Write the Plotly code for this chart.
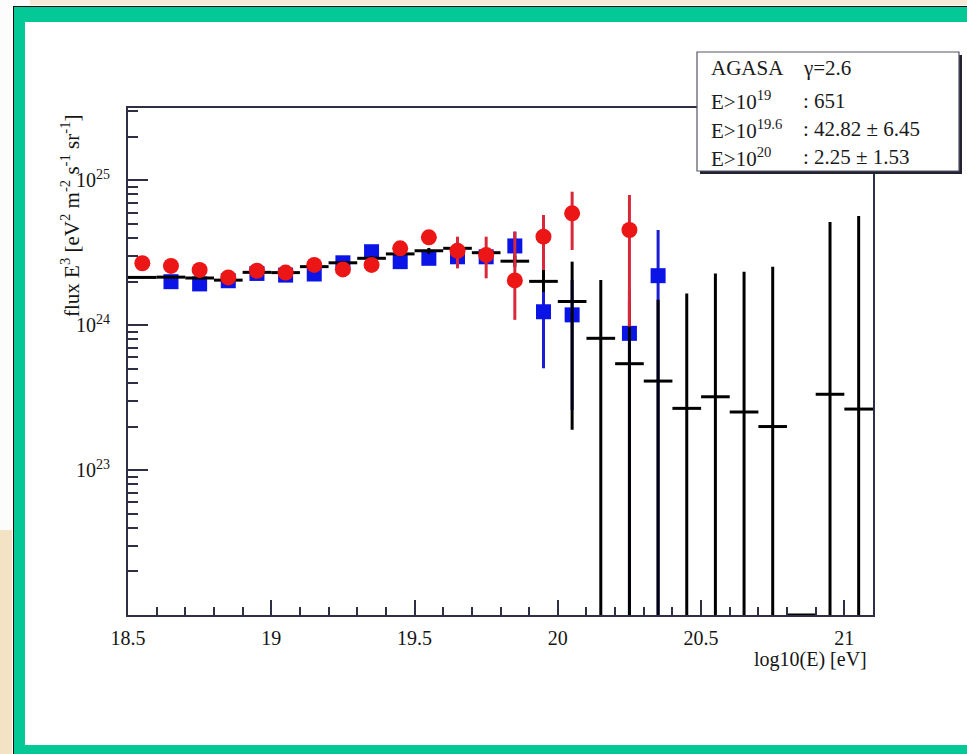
import plotly.graph_objects as go

# ---------------- data ----------------
# bin centres in log10(E/eV)
black_x = [18.55, 18.65, 18.75, 18.85, 18.95, 19.05, 19.15, 19.25, 19.35, 19.45,
           19.55, 19.65, 19.75, 19.85, 19.95, 20.05, 20.15, 20.25, 20.35, 20.45,
           20.55, 20.65, 20.75, 20.85, 20.95, 21.05]
black_y = [2.14e24, 2.15e24, 2.12e24, 2.05e24, 2.32e24, 2.31e24, 2.54e24, 2.70e24, 2.90e24, 3.11e24,
           3.27e24, 3.40e24, 3.17e24, 2.77e24, 2.01e24, 1.46e24, 8.13e23, 5.43e23, 4.12e23, 2.67e23,
           3.21e23, 2.52e23, 2.00e23, 0.0, 3.34e23, 2.64e23]
black_err_up = [0.04e24, 0.04e24, 0.04e24, 0.05e24, 0.05e24, 0.06e24, 0.07e24, 0.08e24, 0.10e24, 0.12e24,
                0.15e24, 0.18e24, 0.20e24, 0.25e24, 0.40e24, 1.29e24, 1.24e24, 0.96e24, 1.09e24, 1.39e24,
                1.96e24, 2.09e24, 2.34e24, 0.0, 4.83e24, 5.42e24]
black_err_dn = [0.04e24, 0.04e24, 0.04e24, 0.05e24, 0.05e24, 0.06e24, 0.07e24, 0.08e24, 0.10e24, 0.12e24,
                0.15e24, 0.18e24, 0.20e24, 0.25e24, 0.31e24, 1.27e24, 8.13e23, 5.43e23, 4.12e23, 2.67e23,
                3.21e23, 2.52e23, 2.00e23, 0.0, 3.34e23, 2.64e23]

blue_x = [18.65, 18.75, 18.85, 18.95, 19.05, 19.15, 19.25, 19.35, 19.45, 19.55,
          19.65, 19.75, 19.85, 19.95, 20.05, 20.25, 20.35]
blue_y = [2.00e24, 1.93e24, 2.03e24, 2.28e24, 2.22e24, 2.26e24, 2.70e24, 3.22e24, 2.75e24, 2.90e24,
          2.97e24, 2.97e24, 3.53e24, 1.24e24, 1.18e24, 0.88e24, 2.20e24]
blue_err_up = [0.08e24, 0.08e24, 0.09e24, 0.10e24, 0.10e24, 0.11e24, 0.13e24, 0.16e24, 0.17e24, 0.20e24,
               0.25e24, 0.30e24, 0.90e24, 0.81e24, 0.87e24, 0.87e24, 2.35e24]
blue_err_dn = [0.08e24, 0.08e24, 0.09e24, 0.10e24, 0.10e24, 0.11e24, 0.13e24, 0.16e24, 0.17e24, 0.20e24,
               0.25e24, 0.30e24, 0.80e24, 0.735e24, 0.92e24, 0.88e24, 2.20e24]

red_x = [18.55, 18.65, 18.75, 18.85, 18.95, 19.05, 19.15, 19.25, 19.35, 19.45,
         19.55, 19.65, 19.75, 19.85, 19.95, 20.05, 20.25]
red_y = [2.68e24, 2.57e24, 2.41e24, 2.14e24, 2.38e24, 2.31e24, 2.61e24, 2.43e24, 2.61e24, 3.40e24,
         4.05e24, 3.27e24, 3.06e24, 2.04e24, 4.09e24, 5.93e24, 4.55e24]
red_err_up = [0.10e24, 0.10e24, 0.10e24, 0.10e24, 0.10e24, 0.11e24, 0.12e24, 0.13e24, 0.15e24, 0.22e24,
              0.30e24, 0.82e24, 1.03e24, 2.39e24, 1.68e24, 2.43e24, 3.38e24]
red_err_dn = [0.10e24, 0.10e24, 0.10e24, 0.10e24, 0.10e24, 0.11e24, 0.12e24, 0.13e24, 0.15e24, 0.20e24,
              0.28e24, 0.80e24, 0.95e24, 0.95e24, 1.68e24, 2.62e24, 3.57e24]

x_tickvals = [18.5, 19, 19.5, 20, 20.5, 21]
x_ticktext = ["18.5", "19", "19.5", "20", "20.5", "21"]
y_tickvals = [1e23, 1e24, 1e25]
y_ticktext = ["10<sup>23</sup>", "10<sup>24</sup>", "10<sup>25</sup>"]

stats_rows = [("AGASA", "γ=2.6"),
              ("E>10<sup>19</sup>", ": 651"),
              ("E>10<sup>19.6</sup>", ": 42.82 ± 6.45"),
              ("E>10<sup>20</sup>", ": 2.25 ± 1.53")]

# ---------------- layout geometry ----------------
W, H = 967, 754
ML, MR, MT, MB = 128, 94, 108, 139
PW, PH = W - ML - MR, H - MT - MB
X_RANGE = [18.5, 21.1]
Y_RANGE = [22.0, 25.5]
FONT = "Liberation Serif"
BLUE = "#0a14e6"
RED = "#ec1616"


def px(xp):
    return (xp - ML) / PW


def py(yp):
    return (H - MB - yp) / PH


fig = go.Figure()

# blue squares
fig.add_trace(go.Scatter(
    x=blue_x, y=blue_y, mode="markers",
    marker=dict(symbol="square", size=15, color=BLUE),
    error_y=dict(type="data", symmetric=False, array=blue_err_up, arrayminus=blue_err_dn,
                 color="#1a1ed0", thickness=3, width=0),
    showlegend=False))

# black histogram-like points
fig.add_trace(go.Scatter(
    x=black_x, y=black_y, mode="markers",
    marker=dict(size=1, color="black", opacity=0),
    error_x=dict(type="constant", value=0.05, color="black", thickness=3, width=0),
    error_y=dict(type="data", symmetric=False, array=black_err_up, arrayminus=black_err_dn,
                 color="black", thickness=3, width=0),
    showlegend=False))

# empty bins drawn on the axis floor
floor_val = 10.0 ** Y_RANGE[0]
zero_x = [x for x, y in zip(black_x, black_y) if y <= 0]
fig.add_trace(go.Scatter(
    x=zero_x, y=[floor_val] * len(zero_x), mode="markers", cliponaxis=False,
    marker=dict(size=1, color="black", opacity=0),
    error_x=dict(type="constant", value=0.05, color="black", thickness=3, width=0),
    showlegend=False))

# red circles
fig.add_trace(go.Scatter(
    x=red_x, y=red_y, mode="markers",
    marker=dict(symbol="circle", size=16, color=RED),
    error_y=dict(type="data", symmetric=False, array=red_err_up, arrayminus=red_err_dn,
                 color="#d8283a", thickness=3, width=0),
    showlegend=False))

axis_col = "#2e2e44"

fig.update_xaxes(
    range=X_RANGE, tickmode="array", tickvals=x_tickvals, ticktext=x_ticktext,
    ticks="inside", ticklen=15, tickwidth=1.5, tickcolor=axis_col,
    minor=dict(tickmode="linear", tick0=18.5, dtick=0.1, ticks="inside", ticklen=8,
               tickwidth=1.5, tickcolor=axis_col, showgrid=False),
    showline=True, mirror=True, linecolor=axis_col, linewidth=2,
    showgrid=False, zeroline=False, ticklabelstandoff=4,
    tickfont=dict(family=FONT, size=20, color="#151515"))

fig.update_yaxes(
    type="log", range=Y_RANGE, tickmode="array", tickvals=y_tickvals, ticktext=y_ticktext,
    ticks="inside", ticklen=20, tickwidth=1.5, tickcolor=axis_col,
    minor=dict(dtick="D1", ticks="inside", ticklen=10, tickwidth=1.5, tickcolor=axis_col,
               showgrid=False),
    showline=True, mirror=True, linecolor=axis_col, linewidth=2,
    showgrid=False, zeroline=False, ticklabelstandoff=12,
    tickfont=dict(family=FONT, size=20, color="#151515"))


def prect(x0, y0, x1, y1, fill, layer, line=None):
    return dict(type="rect", xref="paper", yref="paper",
                x0=px(x0), x1=px(x1), y0=py(y1), y1=py(y0),
                fillcolor=fill, line=line or dict(width=0), layer=layer)


shapes = [
    # outer frame: beige surroundings, black line, green band, white inside
    prect(30, -5, W + 5, 5, "#f6ead6", "below"),
    prect(-5, 530, 12, H + 5, "#f3e2c4", "below"),
    prect(13, 6, W + 5, H + 5, "#111111", "below"),
    prect(14, 7, W + 5, H + 5, "#04c896", "below"),
    prect(25, 22, W + 5, 745, "white", "below"),
    # stats box shadow and box
    prect(700, 55, 962, 174, "#222233", "above"),
    prect(697, 52, 959, 171, "white", "above", dict(color="#55556a", width=1.2)),
]

annotations = []
row_y = [68, 101, 129, 157]
for (left, right), yy in zip(stats_rows, row_y):
    annotations.append(dict(x=px(709), y=py(yy), xref="paper", yref="paper", text=left,
                            showarrow=False, xanchor="left", yanchor="middle",
                            font=dict(family=FONT, size=21, color="#1a1a1a")))
    annotations.append(dict(x=px(801), y=py(yy), xref="paper", yref="paper", text=right,
                            showarrow=False, xanchor="left", yanchor="middle",
                            font=dict(family=FONT, size=21, color="#1a1a1a")))

# axis titles
annotations.append(dict(x=px(869), y=py(659), xref="paper", yref="paper",
                        text="log10(E) [eV]", showarrow=False, xanchor="right", yanchor="middle",
                        font=dict(family=FONT, size=20, color="#151515")))
annotations.append(dict(x=px(70), y=py(216), xref="paper", yref="paper",
                        text="flux E<sup>3</sup> [eV<sup>2</sup> m<sup>-2</sup> s<sup>-1</sup> sr<sup>-1</sup>]",
                        showarrow=False, textangle=-90, xanchor="center", yanchor="middle",
                        font=dict(family=FONT, size=21, color="#151515")))

fig.update_layout(
    width=W, height=H,
    margin=dict(l=ML, r=MR, t=MT, b=MB, pad=0),
    paper_bgcolor="#fcfcfc", plot_bgcolor="rgba(0,0,0,0)",
    shapes=shapes, annotations=annotations, showlegend=False)

fig.write_html("out.html",
               config={"displayModeBar": False},
               post_script="document.body.style.margin='0';document.body.style.overflow='hidden';")
